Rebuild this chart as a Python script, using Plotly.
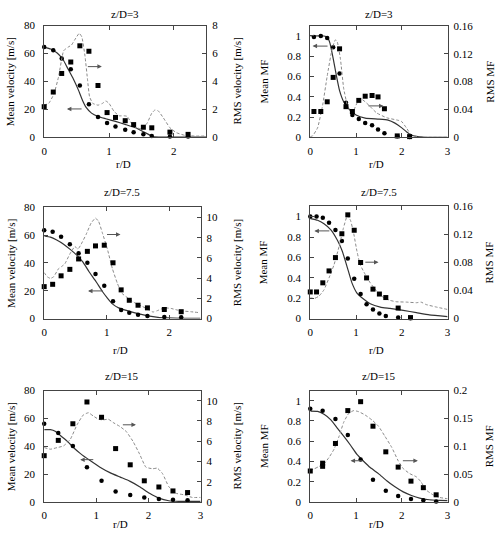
import plotly.graph_objects as go

# ---------------- data ----------------
# Panel 1: z/D=3, velocity
r1_exp = [0, 0.14, 0.27, 0.41, 0.55, 0.69, 0.83, 0.97, 1.1, 1.25, 1.38, 1.53, 1.66, 1.94, 2.22]
mean1_exp = [64.6, 62.3, 56.4, 48.7, 37.1, 23.6, 14.5, 10.3, 7.7, 5.4, 3.7, 2.1, 0.9, 0.5, 0.5]
rms1_exp = [2.19, 3.24, 4.57, 5.39, 6.55, 6.16, 3.71, 1.77, 1.42, 1.19, 0.91, 0.72, 0.68, 0.37, 0.21]
r1_mean_sim = [0, 0.1, 0.2, 0.29, 0.37, 0.45, 0.53, 0.59, 0.65, 0.73, 0.83, 0.95, 1.1, 1.26, 1.41, 1.54, 1.64, 1.69, 2.0, 2.5]
mean1_sim = [64.6, 63.2, 60.4, 55.7, 48.7, 41.7, 33.6, 26.6, 21.2, 17.3, 14.9, 13.3, 11.4, 9.1, 6.8, 3.7, 1.4, 0.4, 0.2, 0.2]
r1_rms_sim = [0, 0.07, 0.15, 0.22, 0.3, 0.37, 0.42, 0.47, 0.54, 0.58, 0.63, 0.67, 0.7, 0.75, 0.83, 0.9, 0.95, 1.0,
              1.08, 1.16, 1.23, 1.28, 1.36, 1.43, 1.51, 1.59, 1.66, 1.71, 1.76, 1.84, 1.94, 2.04, 2.17, 2.32, 2.5]
rms1_sim = [2.3, 2.43, 3.1, 4.3, 6.2, 6.46, 6.6, 6.97, 7.44, 7.2, 5.8, 4.06, 2.9, 2.43, 2.3, 2.43, 2.6, 2.43,
            1.84, 1.54, 1.54, 1.5, 0.91, 0.68, 0.6, 1.03, 1.73, 1.96, 1.89, 1.38, 0.68, 0.33, 0.14, 0.09, 0.09]

# Panel 2: z/D=3, mixture fraction
r2_exp = [0.08, 0.23, 0.37, 0.5, 0.64, 0.78, 0.92, 1.06, 1.2, 1.35, 1.48, 1.62, 1.9, 2.17]
mean2_exp = [0.99, 1.0, 0.98, 0.89, 0.63, 0.34, 0.22, 0.18, 0.14, 0.12, 0.077, 0.039, 0.01, 0.003]
rms2_exp = [0.037, 0.037, 0.051, 0.086, 0.127, 0.044, 0.037, 0.053, 0.059, 0.060, 0.058, 0.041, 0.002, 0.001]
r2_mean_sim = [0, 0.3, 0.37, 0.43, 0.5, 0.57, 0.64, 0.73, 0.86, 1.0, 1.2, 1.5, 1.7, 1.85, 2.0, 2.1, 2.2, 2.35, 2.5, 3.0]
mean2_sim = [1.0, 1.0, 0.99, 0.93, 0.78, 0.61, 0.46, 0.35, 0.27, 0.22, 0.19, 0.18, 0.17, 0.14, 0.093, 0.055, 0.022, 0.006, 0.0, 0.0]
r2_rms_sim = [0, 0.05, 0.16, 0.27, 0.37, 0.48, 0.55, 0.59, 0.66, 0.73, 0.81, 0.88, 0.95, 1.02, 1.11, 1.2, 1.31,
              1.45, 1.67, 1.88, 1.99, 2.1, 2.2, 2.35, 2.6, 3.0]
rms2_sim = [0.001, 0.002, 0.0136, 0.046, 0.088, 0.128, 0.14, 0.137, 0.112, 0.07, 0.046, 0.037, 0.039, 0.049, 0.055,
            0.051, 0.044, 0.035, 0.028, 0.025, 0.023, 0.0136, 0.004, 0.0005, 0.0, 0.0]

# Panel 3: z/D=7.5, velocity
r3_exp = [0, 0.135, 0.27, 0.41, 0.55, 0.69, 0.82, 0.96, 1.1, 1.23, 1.36, 1.5, 1.65, 1.92, 2.19]
mean3_exp = [63.6, 62.4, 58.9, 53.5, 47.0, 40.1, 32.1, 23.7, 12.4, 6.1, 4.2, 2.8, 1.9, 1.2, 0.9]
rms3_exp = [3.16, 3.39, 4.23, 4.87, 5.9, 6.65, 7.19, 7.26, 5.52, 2.84, 1.81, 1.32, 1.06, 0.9, 0.68]
r3_mean_sim = [0, 0.1, 0.2, 0.31, 0.41, 0.52, 0.62, 0.72, 0.83, 0.93, 1.01, 1.09, 1.19, 1.35, 1.5, 1.66, 1.82, 1.97, 2.18, 2.5]
mean3_sim = [59.4, 58.6, 56.5, 53.5, 50.0, 45.7, 40.6, 33.5, 26.5, 19.5, 14.8, 10.6, 7.7, 5.4, 3.5, 1.9, 0.9, 0.5, 0.2, 0.1]
r3_rms_sim = [0, 0.05, 0.1, 0.15, 0.23, 0.28, 0.33, 0.41, 0.49, 0.54, 0.59, 0.67, 0.75, 0.82, 0.87, 0.93, 1.01,
              1.09, 1.17, 1.24, 1.35, 1.45, 1.56, 1.66, 1.74, 1.82, 1.92, 2.03, 2.13, 2.23, 2.34, 2.49]
rms3_sim = [4.55, 4.13, 3.97, 4.13, 4.94, 5.16, 5.42, 6.39, 7.13, 6.87, 7.35, 8.32, 9.45, 9.94, 9.61, 8.48, 6.87,
            4.94, 3.48, 2.52, 1.97, 1.55, 1.23, 0.9, 0.65, 0.81, 1.06, 1.0, 0.84, 0.74, 0.68, 0.58]

# Panel 4: z/D=7.5, mixture fraction
r4_exp = [0, 0.137, 0.274, 0.41, 0.55, 0.69, 0.82, 0.96, 1.1, 1.23, 1.37, 1.51, 1.65, 1.92, 2.19]
mean4_exp = [1.0, 1.0, 0.99, 0.94, 0.87, 0.76, 0.59, 0.39, 0.24, 0.14, 0.09, 0.05, 0.026, 0.01, 0.003]
rms4_exp = [0.038, 0.038, 0.051, 0.068, 0.087, 0.121, 0.148, 0.126, 0.080, 0.058, 0.042, 0.035, 0.030, 0.015, 0.0014]
r4_mean_sim = [0, 0.16, 0.3, 0.45, 0.59, 0.7, 0.81, 0.91, 1.02, 1.17, 1.31, 1.53, 1.74, 2.03, 2.32, 2.6, 3.0]
mean4_sim = [0.98, 0.964, 0.93, 0.87, 0.77, 0.66, 0.50, 0.35, 0.25, 0.19, 0.146, 0.113, 0.1, 0.081, 0.058, 0.036, 0.019]
r4_rms_sim = [0, 0.09, 0.19, 0.3, 0.41, 0.52, 0.63, 0.72, 0.81, 0.88, 0.95, 1.02, 1.09, 1.2, 1.31, 1.45, 1.6,
              1.74, 1.88, 2.1, 2.32, 2.42, 2.53, 2.75, 3.0]
rms4_sim = [0.0296, 0.0287, 0.032, 0.041, 0.058, 0.077, 0.103, 0.128, 0.147, 0.14, 0.121, 0.096, 0.077, 0.063,
            0.051, 0.039, 0.030, 0.026, 0.024, 0.0235, 0.0226, 0.0235, 0.020, 0.0165, 0.013]

# Panel 5: z/D=15, velocity
r5_exp = [0, 0.27, 0.55, 0.82, 1.1, 1.37, 1.65, 1.92, 2.2, 2.47, 2.75]
mean5_exp = [56.1, 49.6, 40.2, 25.0, 15.2, 7.5, 5.1, 3.3, 2.1, 1.6, 1.2]
rms5_exp = [4.57, 6.08, 7.72, 9.87, 8.36, 5.27, 3.67, 2.09, 1.48, 1.09, 0.93]
r5_mean_sim = [0, 0.12, 0.21, 0.31, 0.44, 0.56, 0.69, 0.88, 1.07, 1.26, 1.45, 1.64, 1.83, 2.02, 2.2, 2.39, 2.58, 3.0]
mean5_sim = [51.9, 51.9, 50.8, 47.7, 43.7, 39.1, 34.9, 29.7, 25.0, 21.1, 18.0, 15.0, 11.0, 6.3, 2.8, 0.9, 0.5, 0.5]
r5_rms_sim = [0, 0.12, 0.25, 0.37, 0.5, 0.63, 0.75, 0.85, 0.94, 1.04, 1.13, 1.23, 1.32, 1.45, 1.57, 1.7, 1.83,
              1.95, 2.08, 2.17, 2.27, 2.39, 2.52, 2.68, 2.84, 3.0]
rms5_sim = [5.37, 5.21, 5.37, 5.53, 6.18, 7.62, 8.59, 8.81, 8.49, 8.17, 8.1, 8.17, 7.85, 7.46, 6.98, 6.01, 4.73,
            3.44, 3.28, 3.34, 2.8, 1.51, 0.87, 0.71, 0.45, 0.45]

# Panel 6: z/D=15, mixture fraction
r6_exp = [0, 0.27, 0.55, 0.82, 1.1, 1.37, 1.65, 1.92, 2.2, 2.47, 2.75]
mean6_exp = [0.92, 0.90, 0.82, 0.66, 0.42, 0.22, 0.11, 0.06, 0.03, 0.016, 0.006]
r6_rms_exp = [0, 0.27, 0.27, 0.55, 0.82, 1.1, 1.37, 1.65, 1.92, 2.2, 2.47, 2.75]
rms6_exp = [0.0556, 0.0696, 0.064, 0.105, 0.164, 0.18, 0.136, 0.090, 0.0626, 0.0374, 0.0257, 0.0129]
r6_mean_sim = [0, 0.16, 0.3, 0.45, 0.59, 0.73, 0.88, 1.02, 1.17, 1.31, 1.49, 1.67, 1.85, 2.03, 2.21, 2.39, 2.6, 2.82, 3.0]
mean6_sim = [0.897, 0.894, 0.865, 0.81, 0.73, 0.65, 0.56, 0.47, 0.40, 0.34, 0.28, 0.21, 0.15, 0.10, 0.064, 0.038, 0.022, 0.016, 0.013]
r6_rms_sim = [0, 0.09, 0.19, 0.3, 0.41, 0.52, 0.63, 0.73, 0.84, 0.95, 1.06, 1.2, 1.35, 1.49, 1.63, 1.78, 1.92,
              2.03, 2.17, 2.32, 2.42, 2.53, 2.68, 2.82, 3.0]
rms6_sim = [0.0567, 0.0596, 0.0637, 0.0684, 0.080, 0.0947, 0.118, 0.143, 0.159, 0.164, 0.162, 0.156, 0.147,
            0.136, 0.118, 0.098, 0.074, 0.060, 0.051, 0.045, 0.036, 0.0216, 0.0129, 0.0082, 0.0058]

titles = ["z/D=3", "z/D=3", "z/D=7.5", "z/D=7.5", "z/D=15", "z/D=15"]

# ---------------- layout geometry (pixels) ----------------
W, H = 500, 538
FONT = "Liberation Serif, Times New Roman, Times, serif"
FS = 11
AXC = "#444444"
SOLID_C = "#333333"
DASH_C = "#8a8a8a"


def px(x):
    return x / W


def py(y):
    return 1 - y / H


panels = [
    dict(box=(41.7, 20, 205.7, 134.3), xr=[0, 2.5], xt=[0, 1, 2],
         yl=[0, 80], ylt=[0, 20, 40, 60, 80], yr=[0, 8], yrt=[0, 2, 4, 6, 8],
         r_exp=r1_exp, mean_exp=mean1_exp, r_rms_exp=r1_exp, rms_exp=rms1_exp,
         r_ms=r1_mean_sim, ms=mean1_sim, r_rs=r1_rms_sim, rs=rms1_sim,
         lt="Mean velocity [m/s]", rt="RMS velocity [m/s]",
         ltx=8, rtx=237, title_y=8, xt_y=161.5,
         arrows=[(0.65, 0.89, 50.6), (0.60, 0.35, 20.3)]),
    dict(box=(311, 20.3, 450, 134.3), xr=[0, 3], xt=[0, 1, 2, 3],
         yl=[0, 1.1], ylt=[0, 0.2, 0.4, 0.6, 0.8, 1], yr=[0, 0.16], yrt=[0, 0.04, 0.08, 0.12, 0.16],
         r_exp=r2_exp, mean_exp=mean2_exp, r_rms_exp=r2_exp, rms_exp=rms2_exp,
         r_ms=r2_mean_sim, ms=mean2_sim, r_rs=r2_rms_sim, rs=rms2_sim,
         lt="Mean MF", rt="RMS MF",
         ltx=264, rtx=492, title_y=8, xt_y=161.5,
         arrows=[(0.41, 0.05, 0.90), (1.24, 1.6, 0.31)]),
    dict(box=(41.7, 206, 200, 319.7), xr=[0, 2.5], xt=[0, 1, 2],
         yl=[0, 80], ylt=[0, 20, 40, 60, 80], yr=[0, 11], yrt=[0, 2, 4, 6, 8, 10],
         r_exp=r3_exp, mean_exp=mean3_exp, r_rms_exp=r3_exp, rms_exp=rms3_exp,
         r_ms=r3_mean_sim, ms=mean3_sim, r_rs=r3_rms_sim, rs=rms3_sim,
         lt="Mean velocity [m/s]", rt="RMS velocity [m/s]",
         ltx=8, rtx=237, title_y=190, xt_y=352,
         arrows=[(0.98, 1.22, 60.5), (0.96, 0.70, 19.9)]),
    dict(box=(311, 205, 450, 319.7), xr=[0, 3], xt=[0, 1, 2, 3],
         yl=[0, 1.1], ylt=[0, 0.2, 0.4, 0.6, 0.8, 1], yr=[0, 0.16], yrt=[0, 0.04, 0.08, 0.12, 0.16],
         r_exp=r4_exp, mean_exp=mean4_exp, r_rms_exp=r4_exp, rms_exp=rms4_exp,
         r_ms=r4_mean_sim, ms=mean4_sim, r_rs=r4_rms_sim, rs=rms4_sim,
         lt="Mean MF", rt="RMS MF",
         ltx=264, rtx=492, title_y=190, xt_y=352,
         arrows=[(0.45, 0.09, 0.86), (1.17, 1.49, 0.553)]),
    dict(box=(41.7, 393.3, 200, 507.3), xr=[0, 3], xt=[0, 1, 2, 3],
         yl=[0, 80], ylt=[0, 20, 40, 60, 80], yr=[0, 11], yrt=[0, 2, 4, 6, 8, 10],
         r_exp=r5_exp, mean_exp=mean5_exp, r_rms_exp=r5_exp, rms_exp=rms5_exp,
         r_ms=r5_mean_sim, ms=mean5_sim, r_rs=r5_rms_sim, rs=rms5_sim,
         lt="Mean velocity [m/s]", rt="RMS velocity [m/s]",
         ltx=8, rtx=237, title_y=378, xt_y=530,
         arrows=[(0.97, 0.69, 30.4), (1.48, 1.76, 55.4)]),
    dict(box=(311, 393.3, 450, 507.3), xr=[0, 3], xt=[0, 1, 2, 3],
         yl=[0, 1.1], ylt=[0, 0.2, 0.4, 0.6, 0.8, 1], yr=[0, 0.2], yrt=[0, 0.05, 0.1, 0.15, 0.2],
         r_exp=r6_exp, mean_exp=mean6_exp, r_rms_exp=r6_rms_exp, rms_exp=rms6_exp,
         r_ms=r6_mean_sim, ms=mean6_sim, r_rs=r6_rms_sim, rs=rms6_sim,
         lt="Mean MF", rt="RMS MF",
         ltx=264, rtx=492, title_y=378, xt_y=530,
         arrows=[(1.17, 0.88, 0.407), (1.99, 2.35, 0.407)]),
]

fig = go.Figure()
layout = dict(
    width=W, height=H, margin=dict(l=0, r=0, t=0, b=0),
    paper_bgcolor="white", plot_bgcolor="white", showlegend=False,
    font=dict(family=FONT, size=FS, color="black"),
)
annotations = []
tickfont = dict(family=FONT, size=FS, color="black")

for i, p in enumerate(panels, start=1):
    xa = "x" if i == 1 else f"x{i}"
    yl_n = 2 * i - 1
    yr_n = 2 * i
    ya_l = "y" if yl_n == 1 else f"y{yl_n}"
    ya_r = f"y{yr_n}"
    x0, y0, x1, y1 = p["box"]

    layout[f"xaxis{'' if i == 1 else i}"] = dict(
        domain=[px(x0), px(x1)], anchor=ya_l, range=p["xr"], tickvals=p["xt"],
        showline=True, linecolor=AXC, linewidth=1, mirror="ticks",
        ticks="inside", ticklen=4, tickcolor=AXC, showgrid=False, zeroline=False,
        tickfont=tickfont, ticklabelstandoff=3,
    )
    layout[f"yaxis{'' if yl_n == 1 else yl_n}"] = dict(
        domain=[py(y1), py(y0)], anchor=xa, range=p["yl"], tickvals=p["ylt"],
        showline=True, linecolor=AXC, linewidth=1, mirror=True,
        ticks="inside", ticklen=4, tickcolor=AXC, showgrid=False, zeroline=False,
        tickfont=tickfont, ticklabelstandoff=6,
    )
    layout[f"yaxis{yr_n}"] = dict(
        overlaying=ya_l, side="right", anchor=xa, range=p["yr"], tickvals=p["yrt"],
        showline=False, ticks="inside", ticklen=4, tickcolor=AXC,
        showgrid=False, zeroline=False, tickfont=tickfont, ticklabelstandoff=5,
    )

    # simulation lines
    fig.add_trace(go.Scatter(x=p["r_ms"], y=p["ms"], mode="lines", xaxis=xa, yaxis=ya_l,
                             line=dict(color=SOLID_C, width=1.2, shape="spline", smoothing=0.4)))
    fig.add_trace(go.Scatter(x=p["r_rs"], y=p["rs"], mode="lines", xaxis=xa, yaxis=ya_r,
                             line=dict(color=DASH_C, width=1, dash="3px,2px", shape="spline", smoothing=0.4)))
    # experiments
    fig.add_trace(go.Scatter(x=p["r_exp"], y=p["mean_exp"], mode="markers", xaxis=xa, yaxis=ya_l,
                             marker=dict(symbol="circle", size=4.5, color="black", line=dict(width=0)),
                             cliponaxis=False))
    fig.add_trace(go.Scatter(x=p["r_rms_exp"], y=p["rms_exp"], mode="markers", xaxis=xa, yaxis=ya_r,
                             marker=dict(symbol="square", size=5, color="black", line=dict(width=0)),
                             cliponaxis=False))

    # arrows
    for (tail, head, yv) in p["arrows"]:
        annotations.append(dict(
            x=head, y=yv, ax=tail, ay=yv, xref=xa, yref=ya_l, axref=xa, ayref=ya_l,
            text="", showarrow=True, arrowhead=2, arrowsize=0.9, arrowwidth=1, arrowcolor="#555555",
        ))

    cx = (x0 + x1) / 2
    cy = (y0 + y1) / 2
    annotations.append(dict(x=px(cx), y=py(p["title_y"]), xref="paper", yref="paper", text=titles[i - 1],
                            showarrow=False, font=dict(family=FONT, size=FS), xanchor="center", yanchor="middle"))
    annotations.append(dict(x=px(cx - 2), y=py(p["xt_y"]), xref="paper", yref="paper", text="r/D",
                            showarrow=False, font=dict(family=FONT, size=FS), xanchor="center", yanchor="middle"))
    annotations.append(dict(x=px(p["ltx"]), y=py(cy), xref="paper", yref="paper", text=p["lt"],
                            textangle=-90, showarrow=False, font=dict(family=FONT, size=FS),
                            xanchor="center", yanchor="middle"))
    annotations.append(dict(x=px(p["rtx"]), y=py(cy), xref="paper", yref="paper", text=p["rt"],
                            textangle=-90, showarrow=False, font=dict(family=FONT, size=FS),
                            xanchor="center", yanchor="middle"))

layout["annotations"] = annotations
fig.update_layout(**layout)
fig.write_html(
    "out.html",
    config={"displayModeBar": False},
    post_script="document.body.style.margin='0px'; document.body.style.padding='0px';",
)
